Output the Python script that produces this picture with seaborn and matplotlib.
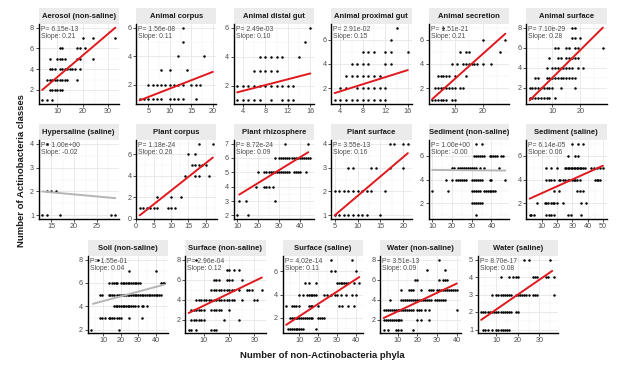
import matplotlib
matplotlib.use("Agg")
import matplotlib.pyplot as plt
import seaborn as sns
import pandas as pd
from matplotlib.patches import Rectangle
from matplotlib.ticker import FixedLocator, AutoMinorLocator

# ---------------- data ----------------
titles = ["Aerosol (non-saline)", "Animal corpus", "Animal distal gut", "Animal proximal gut",
          "Animal secretion", "Animal surface",
          "Hypersaline (saline)", "Plant corpus", "Plant rhizosphere", "Plant surface",
          "Sediment (non-saline)", "Sediment (saline)",
          "Soil (non-saline)", "Surface (non-saline)", "Surface (saline)",
          "Water (non-saline)", "Water (saline)"]

p_values = ["6.15e-13", "1.56e-08", "2.49e-03", "2.91e-02", "1.51e-21", "7.10e-29",
            "1.00e+00", "1.18e-24", "8.72e-24", "3.55e-13", "1.00e+00", "6.14e-05",
            "1.55e-01", "2.96e-04", "4.02e-14", "3.51e-13", "8.70e-17"]
slopes = ["0.21", "0.11", "0.10", "0.15", "0.21", "0.28",
          "-0.02", "0.26", "0.09", "0.16", "-0.00", "0.06",
          "0.04", "0.12", "0.11", "0.09", "0.08"]

# fitted line end points
fit_x0 = [4, 3, 3, 3, 2, 2, 13, 1, 11, 5, 10, 2, 4, 4, 3, 3, 3]
fit_x1 = [33, 20, 16, 16, 28, 28, 29, 22, 44, 21, 47, 50, 45, 33, 42, 40, 36]
fit_y0 = [2.0, 0.9, 1.55, 1.6, 1.1, 0.75, 2.0, 0.3, 3.45, 1.0, 4.8, 2.4, 4.2, 2.65, 1.4, 2.15, 1.55]
fit_y1 = [8.0, 2.9, 2.85, 3.5, 6.5, 8.0, 1.72, 5.7, 6.4, 3.6, 4.75, 5.15, 5.85, 6.2, 5.5, 5.6, 4.35]

x_ticks = [[10, 20, 30], [5, 10, 15, 20], [4, 8, 12, 16], [4, 8, 12, 16], [10, 20], [10, 20],
           [15, 20, 25], [0, 5, 10, 15, 20], [10, 20, 30, 40], [5, 10, 15, 20],
           [10, 20, 30, 40], [10, 20, 30, 40, 50],
           [10, 20, 30, 40], [10, 20, 30], [10, 20, 30, 40], [10, 20, 30, 40], [10, 20, 30]]
y_ticks = [[2, 4, 6, 8], [2, 4, 6], [2, 4, 6], [2, 4, 6], [2, 4, 6], [2, 4, 6, 8],
           [1, 2, 3, 4], [0, 2, 4, 6], [2, 3, 4, 5, 6, 7], [1, 2, 3, 4], [2, 4, 6], [2, 4, 6],
           [2, 4, 6, 8], [2, 4, 6, 8], [2, 4, 6], [2, 4, 6, 8], [1, 2, 3, 4, 5]]

# points: (number of Actinobacteria classes, [numbers of non-Actinobacteria phyla])
aerosol = [(1, [4, 6, 8]), (2, [7, 8, 9, 10, 11, 12]),
           (3, [6, 7, 8, 9, 10, 11, 12, 13, 14, 18]),
           (4, [7, 8, 9, 11, 12, 13, 14, 15, 16, 17, 19]),
           (5, [7, 10, 11, 12, 13, 18, 19, 24]), (6, [11, 12, 18, 19, 21]), (7, [20, 24, 33])]
animal_corpus = [(1, [3, 4, 5, 6, 7, 8, 10, 11, 12, 13, 16]),
                 (2, [5, 6, 7, 8, 9, 10, 11, 12, 13, 15, 16, 17]),
                 (3, [8, 10, 14]), (4, [12, 18]), (5, [13]), (6, [13])]
animal_distal = [(1, [3, 4, 5, 6, 7, 9, 11, 12, 13]),
                 (2, [3, 4, 5, 6, 7, 8, 9, 10, 11, 12, 13]),
                 (3, [6, 7, 8, 9, 10]), (4, [7, 8, 9, 10, 11, 14]), (5, [15]), (6, [16])]
animal_proximal = [(1, [3, 4, 5, 6, 7, 8, 9, 10, 11, 12]), (2, [4, 5, 7, 8, 9, 10, 11, 12]),
                   (3, [5, 6, 7, 8, 9, 10, 11]), (4, [6, 7, 8, 9, 12, 13]),
                   (5, [8, 9, 10, 12, 13, 16]), (6, [13]), (7, [14])]
animal_secretion = [(1, [2, 3, 4, 5, 6, 7, 9, 10]), (2, [3, 4, 5, 6, 7, 8, 9, 10, 12, 13]),
                    (3, [4, 5, 6, 7, 8, 10, 14]), (4, [9, 11, 13, 14, 15, 16, 17, 18, 20, 23]),
                    (5, [12, 14, 15, 26]), (6, [20, 28]), (7, [6])]
animal_surface = [(1, [2, 3, 4, 5, 6, 7, 8, 9, 11]), (2, [2, 3, 4, 5, 6, 7, 8, 9, 10, 13, 18]),
                  (3, [4, 5, 8, 9, 10, 11, 12, 13, 14, 15, 16, 17, 18]),
                  (4, [8, 10, 11, 12, 13, 14, 15, 16, 17, 19, 21]),
                  (5, [9, 12, 13, 15, 16, 17, 18, 19]), (6, [11, 12, 15, 16, 18, 19, 28]),
                  (7, [17, 18, 20]), (8, [17, 18])]
hypersaline = [(1, [13, 14, 17, 28, 29]), (2, [14, 15, 16]), (4, [14])]
plant_corpus = [(1, [1, 2, 3, 4, 5, 6, 9, 10, 11]), (2, [6, 10, 13]), (4, [14, 17, 18, 21]),
                (5, [16, 17, 18, 19, 20]), (6, [15, 17]), (7, [18, 22])]
plant_rhizo = [(2, [10, 15]), (3, [11, 14, 28]), (4, [19, 23, 24, 25, 27]),
               (5, [20, 23, 24, 25, 26, 27, 28, 29, 30, 31, 32, 33, 34, 35, 37, 38, 39, 40, 43]),
               (6, [28, 30, 31, 32, 33, 34, 35, 36, 37, 38, 39, 40, 41, 42, 43, 44, 45]),
               (7, [33, 44])]
plant_surface = [(1, [5, 6, 7, 8, 9, 10, 11, 12, 15]), (2, [5, 6, 7, 8, 9, 10, 11, 12, 13, 16]),
                 (3, [8, 9, 13, 14, 17, 20]), (4, [17, 18, 20, 21])]
sediment_ns = [(1, [32]), (2, [30, 31, 32, 33, 34, 35]),
               (3, [10, 18, 30, 31, 32, 33, 34, 36, 37, 38, 39, 40, 41, 42]),
               (4, [17, 20, 22, 23, 24, 25, 26, 27, 30, 31, 32, 33, 34, 35, 39, 40, 47]),
               (5, [20, 21, 23, 24, 25, 26, 27, 28, 29, 30, 31, 32, 34, 36, 44]),
               (6, [31, 32, 33, 34, 35, 36, 39, 40, 41, 42, 43, 45, 46]), (7, [32, 35])]
sediment_s = [(1, [2, 3, 5, 13, 15, 16, 18, 27, 29, 36]),
              (2, [7, 12, 13, 14, 16, 17, 18, 20, 24, 36, 39]), (3, [18, 21, 33, 35, 37]),
              (4, [13, 15, 16, 18, 21, 22, 24, 25, 27, 28, 30, 31, 32, 33, 35, 45, 46, 47, 48]),
              (5, [13, 16, 20, 25, 26, 27, 28, 29, 30, 31, 32, 33, 34, 35, 36, 37, 38, 42, 44, 46, 48, 50]),
              (6, [27, 32, 34]), (7, [30, 34, 37])]
soil = [(2, [3, 19]), (3, [8, 9, 11, 13, 14, 15, 16, 18, 19, 20, 25, 32]),
        (4, [16, 17, 18, 19, 20, 21, 22, 23, 24, 25, 26, 27, 28, 30, 32, 33, 35]),
        (5, [8, 9, 13, 14, 15, 16, 18, 19, 20, 21, 22, 23, 24, 25, 26, 27, 28, 29, 30, 31, 32,
             33, 34, 35, 36, 37, 38, 39, 40, 41, 42, 43]),
        (6, [13, 15, 16, 17, 18, 20, 21, 22, 23, 24, 25, 26, 27, 28, 29, 30, 31, 43, 44, 45]),
        (7, [25, 40]), (8, [7])]
surface_ns = [(1, [4, 5, 7, 13, 14, 15]), (2, [5, 6, 7, 8, 9, 10, 18, 24]),
              (3, [5, 6, 7, 8, 9, 10, 13, 14, 15, 16, 17, 20]),
              (4, [7, 8, 9, 10, 11, 12, 13, 14, 15, 16, 17, 18, 19, 20, 21, 22, 25, 30, 31]),
              (5, [13, 14, 15, 16, 17, 18, 19, 20, 21, 22, 24, 27, 28, 29, 33]),
              (6, [14, 15, 16, 19, 20, 21, 25]), (7, [19, 20, 22, 24]), (8, [7])]
surface_s = [(1, [4, 5, 6, 7, 8, 9, 10, 11, 12, 19]),
             (2, [5, 6, 7, 8, 9, 10, 11, 12, 13, 14, 15, 16, 17, 20, 21, 22, 23]),
             (3, [3, 6, 7, 8, 10, 15, 16, 17, 20, 31, 33, 36, 39]),
             (4, [10, 12, 14, 15, 16, 17, 18, 19, 23, 25, 27, 29, 30, 32, 35, 38, 40]),
             (5, [13, 15, 19, 30, 31, 32, 33, 34, 35, 36, 39, 42]),
             (6, [27, 29, 40]), (7, [27, 38])]
water_ns = [(1, [3, 5, 9, 10, 12, 18]), (2, [3, 4, 5, 6, 7, 8, 9, 10, 11, 12, 20, 22, 26]),
            (3, [3, 4, 5, 6, 7, 8, 9, 10, 11, 12, 13, 14, 15, 16, 17, 18, 20, 21, 22, 24, 26, 40]),
            (4, [6, 12, 13, 14, 15, 16, 17, 18, 19, 20, 21, 22, 23, 24, 25, 26, 27, 29, 30, 31,
                 32, 33, 34]),
            (5, [12, 16, 17, 18, 22, 26, 27, 28, 30, 31, 32, 33, 34, 35, 36, 37, 38, 39, 40]),
            (6, [19, 20, 31, 33, 34, 35]), (7, [25, 34]), (8, [31])]
water_s = [(1, [4, 5, 6, 8, 10, 11, 12, 13, 14, 15, 16]),
           (2, [3, 4, 5, 6, 7, 8, 9, 10, 11, 12, 13, 14, 15, 16, 17, 19, 20]),
           (3, [8, 10, 11, 12, 13, 14, 15, 16, 17, 19, 20, 21, 22, 23, 24, 25, 27, 28, 29, 37]),
           (4, [12, 16, 18, 19, 20, 27, 28, 29, 33, 34, 37]), (5, [23, 25, 35])]

panel_points = [aerosol, animal_corpus, animal_distal, animal_proximal, animal_secretion,
                animal_surface, hypersaline, plant_corpus, plant_rhizo, plant_surface,
                sediment_ns, sediment_s, soil, surface_ns, surface_s, water_ns, water_s]

# ---------------- style ----------------
sns.set_theme(style="white")
plt.rcParams["font.family"] = ["Liberation Sans", "DejaVu Sans"]

W, H = 617, 380
fig = plt.figure(figsize=(W / 100, H / 100), dpi=100)

RED = "#E0191E"
GREY_LINE = "#B5B5B5"
STRIP = "#EBEBEB"
TXT = "#4D4D4D"

pitch = 97.5
panel_w = 80.5
row_tops = [24, 140, 256]
row_h = [80, 79, 77]
row_left0 = [38.5, 38.5, 87.5]
strip_h = 16


def axes_rect(left, top, w, h):
    return [left / W, 1 - (top + h) / H, w / W, h / H]


for i, title in enumerate(titles):
    if i < 12:
        r, c = divmod(i, 6)
    else:
        r, c = 2, i - 12
    left = row_left0[r] + c * pitch
    ax = fig.add_axes(axes_rect(left, row_tops[r], panel_w, row_h[r]))

    xs, ys = [], []
    for yv, xlist in panel_points[i]:
        xs += xlist
        ys += [yv] * len(xlist)
    df = pd.DataFrame({"phyla": xs, "classes": ys})
    line = pd.DataFrame({"phyla": [fit_x0[i], fit_x1[i]], "classes": [fit_y0[i], fit_y1[i]]})

    sig = float(p_values[i]) < 0.05
    sns.scatterplot(data=df, x="phyla", y="classes", ax=ax, color="black", s=3.2,
                    linewidth=0, zorder=3, legend=False)
    sns.lineplot(data=line, x="phyla", y="classes", ax=ax, color=RED if sig else GREY_LINE,
                 linewidth=1.4, zorder=4, legend=False)

    ax.margins(x=0.05, y=0.05)
    ax.xaxis.set_major_locator(FixedLocator(x_ticks[i]))
    ax.yaxis.set_major_locator(FixedLocator(y_ticks[i]))
    ax.xaxis.set_minor_locator(AutoMinorLocator(2))
    ax.yaxis.set_minor_locator(AutoMinorLocator(2))
    ax.grid(which="major", color="#E6E6E6", linewidth=0.6, zorder=0)
    ax.grid(which="minor", color="#F0F0F0", linewidth=0.35, zorder=0)
    ax.set_axisbelow(True)

    for s in ["top", "right"]:
        ax.spines[s].set_visible(False)
    for s in ["left", "bottom"]:
        ax.spines[s].set_color("black")
        ax.spines[s].set_linewidth(1.0)
    ax.tick_params(axis="both", which="major", labelsize=5.2, labelcolor=TXT, color="#333333",
                   length=2, width=0.6, pad=1.2, left=True, bottom=True)
    ax.tick_params(axis="both", which="minor", length=0)
    ax.set_xlabel("")
    ax.set_ylabel("")

    # strip
    sh = strip_h / row_h[r]
    ax.add_patch(Rectangle((0, 1), 1, sh, transform=ax.transAxes, facecolor=STRIP,
                           edgecolor="none", clip_on=False, zorder=1))
    ax.text(0.5, 1 + sh / 2, title, transform=ax.transAxes, ha="center", va="center",
            fontsize=5.5, fontweight="bold", color="#1A1A1A")

    ax.text(0.03, 0.975, f"P= {p_values[i]}\nSlope: {slopes[i]}", transform=ax.transAxes,
            ha="left", va="top", fontsize=4.9, color=TXT, linespacing=1.05, zorder=5)

fig.text(322 / W, 1 - 355 / H, "Number of non-Actinobacteria phyla", ha="center", va="center",
         fontsize=6.8, fontweight="bold", color="#1A1A1A")
fig.text(22 / W, 1 - 171 / H, "Number of Actinobacteria classes", ha="center", va="center",
         rotation=90, fontsize=6.8, fontweight="bold", color="#1A1A1A")

fig.savefig("out.png", dpi=100, facecolor="white")
